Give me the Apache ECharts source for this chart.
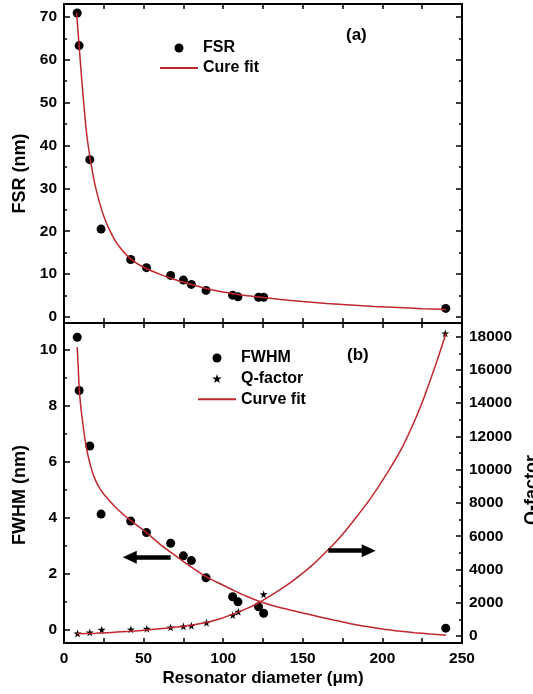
<!DOCTYPE html>
<html>
<head>
<meta charset="utf-8">
<script src="https://cdn.jsdelivr.net/npm/echarts@6/dist/echarts.min.js"></script>
<style>
  html, body { margin: 0; padding: 0; background: #fff; }
  #chart { width: 533px; height: 694px; }
</style>
</head>
<body>
<div id="chart"></div>
<script>
// measured points (diameter in um)
var diam = [8.3, 9.5, 16.2, 23.3, 41.9, 51.8, 67, 75, 80, 89.2, 105.9, 109.3, 122.2, 125.4, 239.8];
var fsr = [70.9, 63.3, 36.7, 20.5, 13.4, 11.5, 9.7, 8.6, 7.6, 6.2, 5.1, 4.7, 4.6, 4.6, 2.0];
var fwhm = [10.45, 8.55, 6.57, 4.14, 3.89, 3.48, 3.1, 2.65, 2.48, 1.87, 1.19, 1.01, 0.83, 0.6, 0.07];
var qDiam = [8.5, 16.2, 23.7, 42, 52, 67, 75, 80, 89.5, 106, 109.5, 125.4, 239.5];
var qFactor = [150, 220, 380, 400, 440, 520, 580, 620, 800, 1260, 1460, 2510, 18200];

// fitted curves
var fsrFitD = [7.9, 9.5, 11, 12.5, 14, 16.4, 20, 25, 31, 36, 42, 50, 60, 70, 81, 90, 102, 110, 121, 135, 150, 165, 180, 195, 210, 225, 240];
var fsrFit = [71, 63.3, 56, 49.5, 43.5, 37, 30, 23.5, 18.5, 15.8, 13.5, 11.6, 10.0, 8.7, 7.5, 6.6, 5.7, 5.2, 4.75, 4.15, 3.6, 3.15, 2.8, 2.45, 2.2, 1.95, 1.75];
var fwhmFitD = [8.3, 9, 9.6, 10.5, 12, 13.5, 15, 17, 19, 22, 25, 33, 41, 52, 60, 67, 73, 80, 89.5, 100, 106.5, 115, 123, 132, 142, 150, 160, 170, 180, 190, 200, 210, 220, 230, 240];
var fwhmFit = [10.1, 9.3, 8.6, 8.0, 7.3, 6.7, 6.25, 5.8, 5.45, 5.1, 4.85, 4.35, 3.95, 3.47, 3.08, 2.78, 2.53, 2.25, 1.9, 1.6, 1.42, 1.2, 1.02, 0.86, 0.72, 0.61, 0.48, 0.35, 0.23, 0.13, 0.04, -0.03, -0.09, -0.14, -0.18];
var qFitD = [8, 20, 30, 42, 52, 62, 73, 80, 89.4, 98, 106.5, 115, 123, 132, 142, 150, 157, 165, 173, 182, 192, 203, 213, 224, 232, 240];
var qFit = [130, 170, 210, 290, 360, 450, 560, 650, 810, 1040, 1330, 1660, 2030, 2560, 3200, 3780, 4350, 5100, 5900, 6950, 8200, 9800, 11450, 13800, 15900, 18200];

// tick labels
var fsrTicks = [0, 10, 20, 30, 40, 50, 60, 70];
var fsrMinor = [5, 15, 25, 35, 45, 55, 65];
var fwhmTicks = [0, 2, 4, 6, 8, 10];
var fwhmMinor = [1, 3, 5, 7, 9];
var qTicks = [0, 2000, 4000, 6000, 8000, 10000, 12000, 14000, 16000, 18000];
var qMinor = [1000, 3000, 5000, 7000, 9000, 11000, 13000, 15000, 17000];

function zip(xs, ys) {
  return xs.map(function (x, i) { return [x, ys[i]]; });
}

var FONT = 'Liberation Sans, Arial, sans-serif';
var RED = '#c0272d';
var STAR = 'path://M50,0 L61,35 L98,35 L68,57 L79,91 L50,70 L21,91 L32,57 L2,35 L39,35 Z';

function xAx(grid, pos, labels) {
  return {
    type: 'value', gridIndex: grid, position: pos, min: 0, max: 250, interval: 50,
    axisLine: { onZero: false, lineStyle: { color: '#000', width: 2 } },
    axisTick: { inside: true, length: 5, lineStyle: { color: '#000', width: 1.5 } },
    minorTick: { show: true, splitNumber: 2, length: 5, lineStyle: { color: '#000', width: 1.5 } },
    axisLabel: { show: labels, margin: 8, color: '#000', fontSize: 15.5, fontWeight: 'bold', fontFamily: FONT },
    splitLine: { show: false }
  };
}

function yAx(grid, pos, min, max, ticks, isMinor, labels) {
  return {
    type: 'value', gridIndex: grid, position: pos, min: min, max: max,
    axisLine: { show: !isMinor, onZero: false, lineStyle: { color: '#000', width: 2 } },
    axisTick: { inside: true, length: isMinor ? 3 : 6, customValues: ticks, lineStyle: { color: '#000', width: 1.5 } },
    axisLabel: { show: labels, customValues: ticks, margin: 7, color: '#000', fontSize: 15.5, fontWeight: 'bold', fontFamily: FONT,
      formatter: function (v) { return String(v); } },
    splitLine: { show: false }
  };
}

var chart = echarts.init(document.getElementById('chart'));

var nameStyle = { color: '#000', fontSize: 18, fontWeight: 'bold', fontFamily: FONT };

var yAxes = [
  yAx(0, 'left', -1.4, 73, fsrTicks, false, true),
  yAx(0, 'left', -1.4, 73, fsrMinor, true, false),
  yAx(0, 'right', -1.4, 73, fsrTicks, false, false),
  yAx(0, 'right', -1.4, 73, fsrMinor, true, false),
  yAx(1, 'left', -0.46, 10.96, fwhmTicks, false, true),
  yAx(1, 'left', -0.46, 10.96, fwhmMinor, true, false),
  yAx(1, 'right', -420, 18820, qTicks, false, true),
  yAx(1, 'right', -420, 18820, qMinor, true, false)
];
yAxes[0].name = 'FSR (nm)';
yAxes[0].nameLocation = 'middle';
yAxes[0].nameGap = 26;
yAxes[0].nameTextStyle = Object.assign({ padding: [0, 20, 0, 0] }, nameStyle);
yAxes[4].name = 'FWHM (nm)';
yAxes[4].nameLocation = 'middle';
yAxes[4].nameGap = 26;
yAxes[4].nameTextStyle = Object.assign({ padding: [0, 24, 0, 0] }, nameStyle);
yAxes[6].name = 'Q-factor';
yAxes[6].nameLocation = 'middle';
yAxes[6].nameGap = 60;
yAxes[6].nameTextStyle = Object.assign({ padding: [0, 14, 0, 0] }, nameStyle);

var xAxes = [xAx(0, 'bottom', false), xAx(0, 'top', false), xAx(1, 'bottom', true), xAx(1, 'top', false)];
xAxes[2].name = 'Resonator diameter (\u03bcm)';
xAxes[2].nameLocation = 'middle';
xAxes[2].nameGap = 27;
xAxes[2].nameTextStyle = { color: '#000', fontSize: 17, fontWeight: 'bold', fontFamily: FONT };

var legendText = { color: '#000', fontSize: 16, fontWeight: 'bold', fontFamily: FONT, lineHeight: 18 };
var noDot = { opacity: 0 };

chart.setOption({
  animation: false,
  backgroundColor: '#fff',
  grid: [
    { left: 64, top: 4, width: 398, height: 319, outerBoundsMode: 'none', containLabel: false },
    { left: 64, top: 323, width: 398, height: 320, outerBoundsMode: 'none', containLabel: false }
  ],
  xAxis: xAxes,
  yAxis: yAxes,
  legend: [
    { data: ['FSR', { name: 'Cure fit', itemStyle: noDot }], orient: 'vertical', left: 159, top: 39, padding: 0,
      itemWidth: 38, itemHeight: 9, itemGap: 2, textStyle: legendText },
    { data: ['FWHM', 'Q-factor', { name: 'Curve fit', itemStyle: noDot }], orient: 'vertical', left: 197, top: 349, padding: 0,
      itemWidth: 38, itemHeight: 9, itemGap: 2.6, textStyle: legendText }
  ],
  graphic: [
    { type: 'text', left: 346, top: 27, style: { text: '(a)', fill: '#000', font: 'bold 17px ' + FONT } },
    { type: 'text', left: 347, top: 347, style: { text: '(b)', fill: '#000', font: 'bold 17px ' + FONT } }
  ],
  series: [
    { name: 'FSR', type: 'scatter', xAxisIndex: 0, yAxisIndex: 0, symbol: 'circle', symbolSize: 9,
      itemStyle: { color: '#000', opacity: 1 }, z: 2, data: zip(diam, fsr) },
    { name: 'Cure fit', type: 'line', xAxisIndex: 0, yAxisIndex: 0, symbol: 'none', smooth: 0.3,
      lineStyle: { color: RED, width: 1.5 }, itemStyle: { color: RED }, z: 3, data: zip(fsrFitD, fsrFit) },
    { name: 'FWHM', type: 'scatter', xAxisIndex: 2, yAxisIndex: 4, symbol: 'circle', symbolSize: 9,
      itemStyle: { color: '#000', opacity: 1 }, z: 2, data: zip(diam, fwhm) },
    { name: 'Q-factor', type: 'scatter', xAxisIndex: 2, yAxisIndex: 6, symbol: STAR, symbolSize: 8,
      itemStyle: { color: '#000', opacity: 1 }, z: 2, data: zip(qDiam, qFactor) },
    { name: 'Curve fit', type: 'line', xAxisIndex: 2, yAxisIndex: 4, symbol: 'none', smooth: 0.3,
      lineStyle: { color: RED, width: 1.5 }, itemStyle: { color: RED }, z: 3, data: zip(fwhmFitD, fwhmFit),
      markLine: {
        silent: true, symbol: ['none', 'triangle'], symbolSize: [13, 14], label: { show: false },
        lineStyle: { color: '#000', width: 4.5, type: 'solid' }, itemStyle: { color: '#000' },
        data: [[{ coord: [67, 2.6] }, { coord: [41.3, 2.6] }]]
      } },
    { name: 'Curve fit', type: 'line', xAxisIndex: 2, yAxisIndex: 6, symbol: 'none', smooth: 0.3,
      lineStyle: { color: RED, width: 1.5 }, itemStyle: { color: RED }, z: 3, data: zip(qFitD, qFit),
      markLine: {
        silent: true, symbol: ['none', 'triangle'], symbolSize: [13, 14], label: { show: false },
        lineStyle: { color: '#000', width: 4.5, type: 'solid' }, itemStyle: { color: '#000' },
        data: [[{ coord: [166, 5130] }, { coord: [191.4, 5130] }]]
      } }
  ]
});
</script>
</body>
</html>
